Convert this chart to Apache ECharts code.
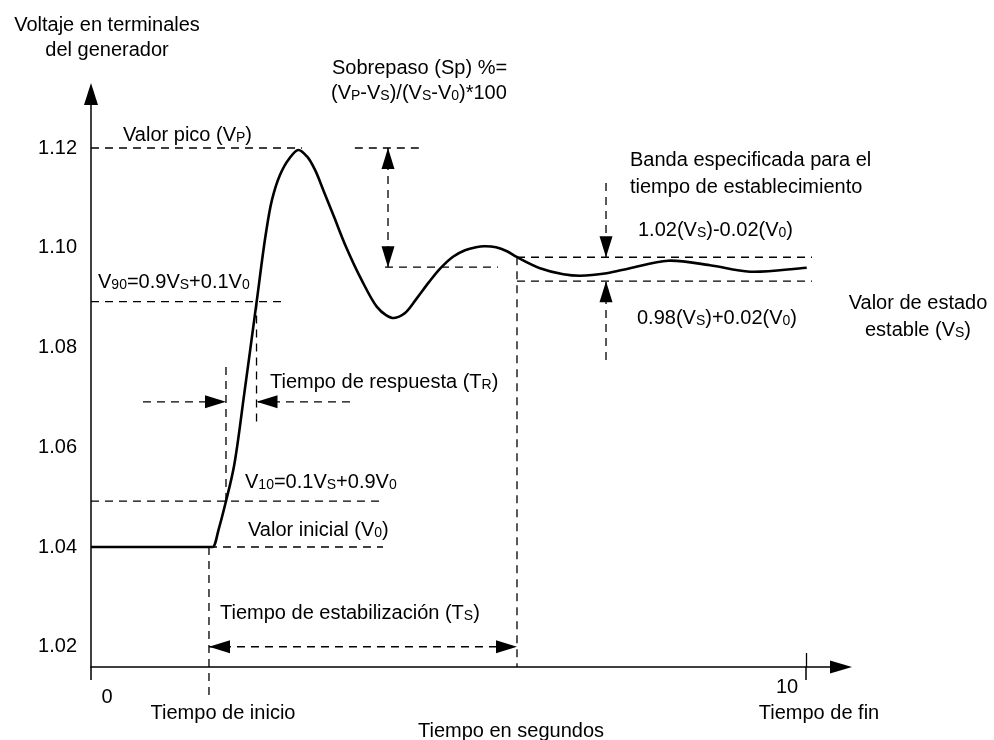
<!DOCTYPE html>
<html>
<head>
<meta charset="utf-8">
<script src="https://cdn.jsdelivr.net/npm/echarts@6/dist/echarts.min.js"></script>
<style>html,body{margin:0;padding:0;background:#fff}#c{width:994px;height:740px}</style>
</head>
<body>
<div id="c"></div>
<script>
// ---- data ----
const initialTime = [0, 1.70];
const initialVoltage = [1.04, 1.04];
const responseTime = [1.700, 1.790, 1.888, 2.000, 2.147, 2.317, 2.441, 2.531, 2.643, 2.769,
  2.899, 3.021, 3.133, 3.259, 3.399, 3.566, 3.786, 3.996, 4.126, 4.238,
  4.392, 4.559, 4.727, 4.895, 5.063, 5.231, 5.385, 5.497, 5.664, 5.818,
  5.962, 6.280, 6.606, 6.839, 7.212, 7.538, 8.074, 8.657, 9.217, 10.010];
const responseVoltage = [1.0400, 1.0438, 1.0492, 1.0562, 1.0711, 1.0892, 1.1024, 1.1096, 1.1146, 1.1178,
  1.1196, 1.1183, 1.1156, 1.1112, 1.1062, 1.1002, 1.0935, 1.0882, 1.0865, 1.0859,
  1.0869, 1.0899, 1.0931, 1.0960, 1.0982, 1.0995, 1.1001, 1.1003, 1.1001, 1.0993,
  1.0981, 1.0959, 1.0947, 1.0944, 1.0949, 1.0959, 1.0974, 1.0965, 1.0952, 1.0960];
const yTickValues = [1.02, 1.04, 1.06, 1.08, 1.10, 1.12];
const yTickLabels = ['1.02', '1.04', '1.06', '1.08', '1.10', '1.12'];
const xTickValues = [0, 10];
const xTickLabels = ['0', '10'];
// reference levels (volts) and times (s)
const levelV0 = 1.04, levelVP = 1.12, levelVS = 1.0961, levelV10 = 1.0492, levelV90 = 1.0892;
const bandHigh = 1.0981, bandLow = 1.0933;
const timeStart = 1.65, timeSettle = 5.958, timeR1 = 1.888, timeR2 = 2.315, timeEnd = 10;

// ---- chart ----
const FONT = '"Liberation Sans", Arial, sans-serif';
const chart = echarts.init(document.getElementById('c'), null, {renderer: 'canvas'});
const Y_MIN = 1.015937, Y_MAX = 1.130828, X_MAX = 10.4895;

// smooth curve through the read points (centripetal Catmull-Rom in pixel space),
// leaving the first point tangent to the flat pre-disturbance line
function smoothPath(pts) {
  const P = [pts[0]].concat(pts);
  const n = P.length;
  const last = P[n - 1], prev = P[n - 2];
  P.push([2 * last[0] - prev[0], 2 * last[1] - prev[1]]);
  const dist = (a, b) => Math.pow(Math.hypot(b[0] - a[0], b[1] - a[1]), 0.5) || 1e-6;
  let d = 'M' + P[1][0] + ' ' + P[1][1];
  for (let i = 1; i < P.length - 2; i++) {
    const p0 = P[i - 1], p1 = P[i], p2 = P[i + 1], p3 = P[i + 2];
    const d1 = dist(p0, p1), d2 = dist(p1, p2), d3 = dist(p2, p3);
    const a1 = d1 * d1, a2 = d2 * d2, a3 = d3 * d3;
    let c1;
    if (i === 1) c1 = [p1[0] + (p2[0] - p1[0]) * 0.45, p1[1]];
    else c1 = [0, 1].map(k => (a1 * p2[k] - a2 * p0[k] + (2 * a1 + 3 * d1 * d2 + a2) * p1[k]) / (3 * d1 * (d1 + d2)));
    const c2 = [0, 1].map(k => (a3 * p1[k] - a2 * p3[k] + (2 * a3 + 3 * d3 * d2 + a2) * p2[k]) / (3 * d3 * (d3 + d2)));
    d += 'C' + c1[0] + ' ' + c1[1] + ' ' + c2[0] + ' ' + c2[1] + ' ' + p2[0] + ' ' + p2[1];
  }
  return d;
}

chart.setOption({
  animation: false,
  backgroundColor: '#fff',
  grid: {left: 91, right: 153, top: 94, bottom: 73},
  xAxis: [{
    type: 'value', min: 0, max: X_MAX, splitLine: {show: false},
    axisLine: {show: true, lineStyle: {color: '#000', width: 1.5}, symbol: ['none', 'triangle'], symbolSize: [13, 22]},
    axisTick: {show: true, customValues: xTickValues, length: 13, lineStyle: {color: '#000', width: 1.5}},
    axisLabel: {
      customValues: xTickValues, margin: 10, color: '#000', fontFamily: FONT, fontSize: 20,
      formatter: v => (v === xTickValues[0] ? '{a|' : '{b|') + xTickLabels[xTickValues.indexOf(v)] + '}',
      rich: {
        a: {fontFamily: FONT, fontSize: 20, color: '#000', padding: [10, 0, 0, 32]},
        b: {fontFamily: FONT, fontSize: 20, color: '#000', padding: [0, 38, 0, 0]}
      }
    }
  }, {
    type: 'value', min: 0, max: X_MAX, position: 'bottom', splitLine: {show: false},
    axisLine: {show: false},
    axisTick: {show: true, inside: true, customValues: [timeEnd], length: 14, lineStyle: {color: '#000', width: 1.3}},
    axisLabel: {show: false}
  }],
  yAxis: {
    type: 'value', min: Y_MIN, max: Y_MAX, splitLine: {show: false},
    axisLine: {show: true, lineStyle: {color: '#000', width: 1.5}, symbol: ['none', 'triangle'], symbolSize: [14, 22]},
    axisTick: {show: false},
    axisLabel: {
      customValues: yTickValues, margin: 14, color: '#000', fontFamily: FONT, fontSize: 20,
      formatter: v => yTickLabels[yTickValues.findIndex(t => Math.abs(t - v) < 1e-6)]
    }
  },
  series: [{
    type: 'line', xAxisIndex: 0, data: initialTime.map((t, i) => [t, initialVoltage[i]]),
    showSymbol: false, lineStyle: {color: '#000', width: 2.6}, z: 10
  }, {
    type: 'custom', coordinateSystem: 'cartesian2d', xAxisIndex: 0, yAxisIndex: 0, z: 10,
    data: responseTime.map((t, i) => [t, responseVoltage[i]]),
    renderItem: (params, api) => {
      if (params.dataIndex !== 0) return null;
      const pts = responseTime.map((t, i) => api.coord([t, responseVoltage[i]]));
      return {type: 'path', shape: {pathData: smoothPath(pts)},
        style: {stroke: '#000', fill: 'none', lineWidth: 2.6, lineJoin: 'round'}};
    }
  }]
});

// ---- annotations (positions from the chart's own scales) ----
const C = (x, y) => chart.convertToPixel({gridIndex: 0}, [x, y]);
const G = [];
function seg(a, b) {
  G.push({type: 'line', silent: true, z: 5, shape: {x1: a[0], y1: a[1], x2: b[0], y2: b[1]},
    style: {stroke: '#000', lineWidth: 1.3, lineDash: [8, 6]}});
}
function head(tip, from) {
  const dx = tip[0] - from[0], dy = tip[1] - from[1];
  const len = Math.hypot(dx, dy), ux = dx / len, uy = dy / len, L = 21, W = 13;
  const bx = tip[0] - ux * L, by = tip[1] - uy * L;
  G.push({type: 'polygon', silent: true, z: 6,
    shape: {points: [[tip[0], tip[1]], [bx - uy * W / 2, by + ux * W / 2], [bx + uy * W / 2, by - ux * W / 2]]},
    style: {fill: '#000'}});
}
function guide(a, b, arrowStart, arrowEnd) {
  const p = C(a[0], a[1]), q = C(b[0], b[1]);
  seg(p, q);
  if (arrowStart) head(p, q);
  if (arrowEnd) head(q, p);
}
// level and time guides
guide([0, levelVP], [2.95, levelVP]);
guide([3.69, levelVP], [4.63, levelVP]);
guide([4.112, levelVS], [5.692, levelVS]);
guide([4.154, levelVP], [4.154, levelVS], true, true);
guide([timeSettle, bandHigh], [10.084, bandHigh]);
guide([timeSettle, bandLow], [10.084, bandLow]);
guide([timeSettle, bandHigh], [timeSettle, Y_MIN]);
guide([7.203, 1.1130], [7.203, bandHigh], false, true);
guide([7.203, 1.0775], [7.203, bandLow], false, true);
guide([0, levelV90], [2.713, levelV90]);
guide([0, levelV10], [4.112, levelV10]);
guide([timeStart, levelV0], [4.084, levelV0]);
guide([timeStart, levelV0], [timeStart, 1.0093]);
guide([timeR1, 1.0761], [timeR1, levelV10]);
guide([timeR2, levelV90], [timeR2, 1.0641]);
guide([0.727, 1.0691], [timeR1, 1.0691], false, true);
guide([3.622, 1.0691], [timeR2, 1.0691], false, true);
guide([timeStart, 1.02], [timeSettle, 1.02], true, true);

// texts
const SUB = {fontFamily: FONT, fontSize: 14, color: '#000', verticalAlign: 'bottom'};
function txt(x, y, text, align) {
  G.push({type: 'text', silent: true, z: 7, x: x, y: y,
    style: {text: text, fill: '#000', fontFamily: FONT, fontSize: 20, align: align || 'left', verticalAlign: 'middle',
      rich: {s: SUB}}});
}
txt(107, 25, 'Voltaje en terminales', 'center');
txt(107, 50, 'del generador', 'center');
txt(123, 135, 'Valor pico (V{s|P})');
txt(332, 68, 'Sobrepaso (Sp) %=');
txt(331, 93, '(V{s|P}-V{s|S})/(V{s|S}-V{s|0})*100');
txt(630, 160, 'Banda especificada para el');
txt(630, 187, 'tiempo de establecimiento');
txt(638, 230, '1.02(V{s|S})-0.02(V{s|0})');
txt(637, 318, '0.98(V{s|S})+0.02(V{s|0})');
txt(918, 303, 'Valor de estado', 'center');
txt(918, 330, 'estable (V{s|S})', 'center');
txt(98, 282, 'V{s|90}=0.9V{s|S}+0.1V{s|0}');
txt(270, 382, 'Tiempo de respuesta (T{s|R})');
txt(245, 482, 'V{s|10}=0.1V{s|S}+0.9V{s|0}');
txt(248, 530, 'Valor inicial (V{s|0})');
txt(220, 613, 'Tiempo de estabilización (T{s|S})');
txt(223, 713, 'Tiempo de inicio', 'center');
txt(819, 713, 'Tiempo de fin', 'center');
txt(511, 731, 'Tiempo en segundos', 'center');

chart.setOption({graphic: G});
</script>
</body>
</html>
